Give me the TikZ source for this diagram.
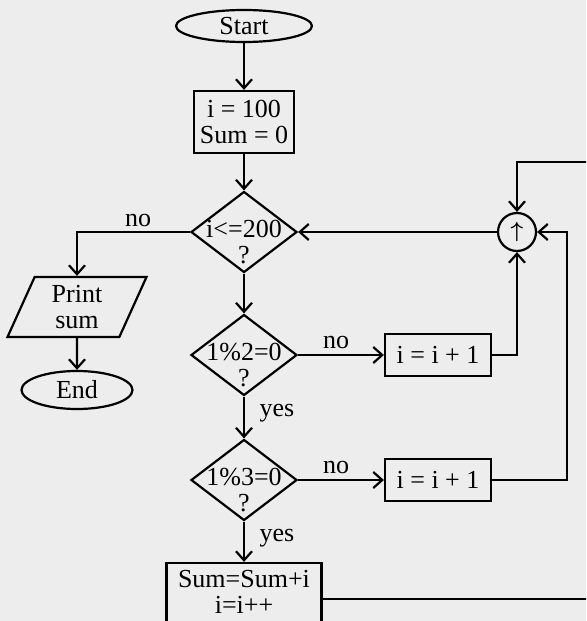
\documentclass[tikz,border=0pt]{standalone}
\usepackage{fontspec}
\usepackage{bm}
\setmainfont{Liberation Serif}
\usetikzlibrary{shapes.geometric,arrows.meta}

\begin{document}
\begin{tikzpicture}[x=0.5pt, y=-0.5pt,
  every node/.style={font=\fontsize{13}{13}\selectfont},
  arr/.style={line width=1.1pt, -{Straight Barb[length=4.5pt,width=8pt]}},
  term/.style={ellipse, draw, line width=1.1pt, inner sep=0pt},
  proc/.style={rectangle, draw, line width=1.1pt, align=center, inner sep=0pt},
  dec/.style={diamond, draw, line width=1.1pt, inner sep=0pt, minimum width=53pt, minimum height=40.5pt},
  io/.style={trapezium, trapezium left angle=58, trapezium right angle=122, trapezium stretches body,
    draw, line width=1.1pt, align=center, inner sep=0pt},
  lbl/.style={inner sep=0pt}]
% page (scanned paper)
\fill[black!7] (0,0) rectangle (586,621);
\clip (0,0) rectangle (586,621);
% main column
\node[term, minimum width=68pt, minimum height=16pt] (start) at (244,26) {Start};
\node[proc, minimum width=50pt, minimum height=31pt] (init) at (244,122) {i = 100\\Sum = 0};
\node[dec] (cond) at (244,232) {};
\node[align=center, yshift=-5pt] (condtxt) at (cond) {i<=200\\?};
% the two divisibility tests, each with its own increment box
\foreach \nm/\y/\txt in {two/355/1\%2=0,three/480/1\%3=0}{
  \node[dec] (\nm) at (244,\y) {};
  \node[align=center, yshift=-5pt] (\nm txt) at (\nm) {\txt\\?};
  \node[proc, minimum width=53pt, minimum height=21pt] (inc\nm) at (438,\y) {i = i + 1};
  \draw[arr] (\nm) -- (inc\nm);
  \node[lbl] (no\nm) at (336,\y-13) {no};
}
\node[proc, minimum width=77.5pt, minimum height=36pt] (sum) at (244,599) {};
\node[align=center, inner sep=0pt] (sumtxt) at (244,592) {Sum=Sum+i\\i=i++};
\draw[arr] (start) -- (init);
\draw[arr] (init) -- (cond);
\draw[arr] (cond) -- (two);
\draw[arr] (two) -- (three);
\draw[arr] (three) -- (sum);
\node[lbl] (yestwo) at (277,413) {yes};
\node[lbl] (yesthree) at (277,538) {yes};
% exit branch
\node[io, minimum width=69.5pt, minimum height=30pt] (print) at (77,307) {Print\\sum};
\node[term, minimum width=55.5pt, minimum height=19pt] (end) at (77,390) {End};
\draw[arr] (cond.west) -| (print.north);
\node[lbl] (nocond) at (138,220) {no};
\draw[arr] (print) -- (end);
% connector circle and loop back
\node[circle, draw, line width=1.1pt, minimum size=19pt, inner sep=0pt] (junc) at (517,232)
  {\fontsize{11}{11}\selectfont$\bm{\uparrow}$};
\coordinate (rside) at (567,232);
\coordinate (loop) at (610,162);
\draw[arr] (junc) -- (cond);
\draw[arr] (inctwo.east) -| (junc.south);
\draw[arr] (incthree.east) -| (rside) -- (junc.east);
\draw[arr] (sum.east) -| (loop) -| (junc.north);
\end{tikzpicture}
\end{document}
